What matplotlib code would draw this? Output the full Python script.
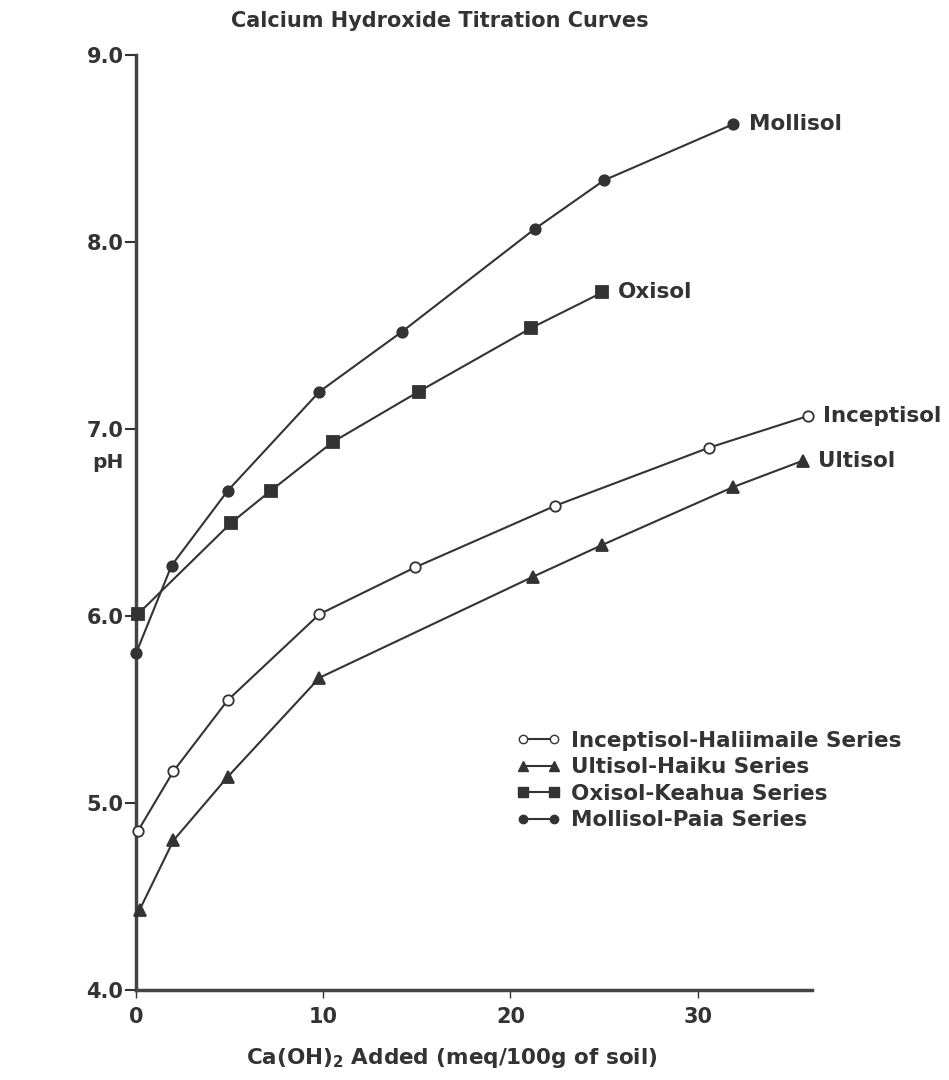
import matplotlib
matplotlib.use("Agg")
import matplotlib.pyplot as plt
from matplotlib.lines import Line2D

# Ca(OH)2 added (meq/100g soil) and resulting pH for each soil
incept_x = [0.1, 2.0, 4.9, 9.8, 14.9, 22.4, 30.6, 35.9]
incept_ph = [4.85, 5.17, 5.55, 6.01, 6.26, 6.59, 6.90, 7.07]

ulti_x = [0.2, 2.0, 4.9, 9.8, 21.2, 24.9, 31.9, 35.6]
ulti_ph = [4.43, 4.80, 5.14, 5.67, 6.21, 6.38, 6.69, 6.83]

oxi_x = [0.1, 5.1, 7.2, 10.5, 15.1, 21.1, 24.9]
oxi_ph = [6.01, 6.50, 6.67, 6.93, 7.20, 7.54, 7.73]

molli_x = [0.0, 1.9, 4.9, 9.8, 14.2, 21.3, 25.0, 31.9]
molli_ph = [5.80, 6.27, 6.67, 7.20, 7.52, 8.07, 8.33, 8.63]

legend_names = ["Inceptisol-Haliimaile Series", "Ultisol-Haiku Series",
                "Oxisol-Keahua Series", "Mollisol-Paia Series"]
end_names = ["Inceptisol", "Ultisol", "Oxisol", "Mollisol"]

ink = "#333333"
plt.rcParams["font.family"] = "DejaVu Sans"
plt.rcParams["font.weight"] = "bold"
plt.rcParams["mathtext.default"] = "bf"

fig = plt.figure(figsize=(9.49, 10.8), dpi=100)
ax = fig.add_axes([0.1433, 0.0833, 0.8556 - 0.1433, 0.9491 - 0.0833])

series = [
    (incept_x, incept_ph, dict(marker="o", markersize=7.5, markerfacecolor="white")),
    (ulti_x, ulti_ph, dict(marker="^", markersize=8, markerfacecolor=ink)),
    (oxi_x, oxi_ph, dict(marker="s", markersize=8, markerfacecolor=ink)),
    (molli_x, molli_ph, dict(marker="o", markersize=7.5, markerfacecolor=ink)),
]
handles = []
for (xs, ys, style), name in zip(series, end_names):
    ax.plot(xs, ys, color=ink, linewidth=1.5, markeredgecolor=ink,
            markeredgewidth=1.3, clip_on=False, zorder=3, **style)
    ax.annotate(name, (xs[-1], ys[-1]), xytext=(11, 0), textcoords="offset points",
                ha="left", va="center", fontsize=15.5, fontweight="bold", color=ink)
    handles.append(Line2D([], [], color=ink, linewidth=1.5, markeredgecolor=ink,
                          markeredgewidth=1.0,
                          **{**style, "markersize": style["markersize"] - 1.5}))

ax.set_xlim(0, 36.1)
ax.set_ylim(4.0, 9.0)
ax.set_xticks([0, 10, 20, 30])
ax.set_yticks([4, 5, 6, 7, 8, 9])
ax.set_yticklabels(["4.0", "5.0", "6.0", "7.0", "8.0", "9.0"])

for side in ["top", "right"]:
    ax.spines[side].set_visible(False)
for side in ["left", "bottom"]:
    ax.spines[side].set_linewidth(2.5)
    ax.spines[side].set_color("#444444")

ax.tick_params(axis="y", direction="out", length=8, width=1.5, pad=1,
               labelsize=15, colors=ink)
ax.tick_params(axis="x", direction="out", length=6, width=1, pad=6,
               labelsize=15, colors=ink)
for lab in ax.get_xticklabels() + ax.get_yticklabels():
    lab.set_fontweight("bold")

ax.set_xlabel(r"Ca(OH)$_\mathbf{2}$ Added (meq/100g of soil)", fontsize=15.5,
              fontweight="bold", color=ink)
ax.xaxis.set_label_coords(0.467, -0.060)
ax.set_ylabel("pH", fontsize=14.5, fontweight="bold", color=ink, rotation=0,
              va="center")
ax.yaxis.set_label_coords(-0.042, 0.564)

fig.text(0.4636, 0.981, "Calcium Hydroxide Titration Curves", ha="center",
         va="center", fontsize=15, fontweight="bold", color=ink)

leg = ax.legend(handles, legend_names, loc="upper left",
                bbox_to_anchor=(0.535, 0.298), frameon=False, numpoints=2,
                handlelength=2.0, handletextpad=0.5, labelspacing=0.3,
                prop={"size": 15.5, "weight": "bold"})
for t in leg.get_texts():
    t.set_color(ink)

fig.savefig("out.png", dpi=100, facecolor="white")
